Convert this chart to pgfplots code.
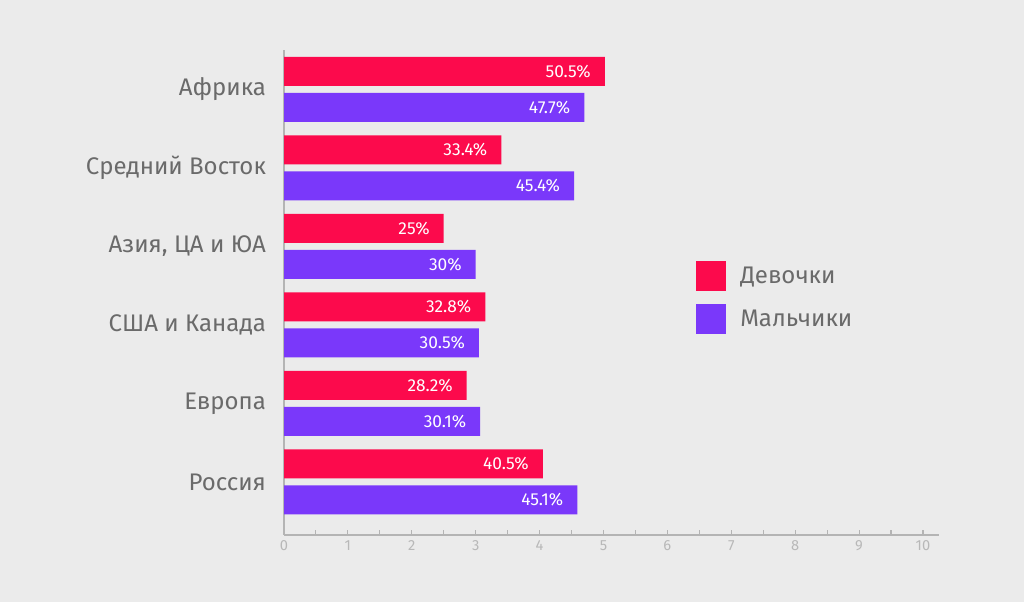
\documentclass[border=0pt]{standalone}
\usepackage{pgfplots}
\pgfplotsset{compat=1.18}
\usepackage{fontspec}
\setmainfont{Fira Sans}
\definecolor{bgc}{HTML}{EBEBEB}
\definecolor{redc}{HTML}{FC0A4C}
\definecolor{purc}{HTML}{7A38FA}
\definecolor{txtc}{HTML}{6A6A6A}
\definecolor{axc}{HTML}{B4B4B4}
\definecolor{tickc}{HTML}{B8B8B8}
\begin{document}
\begin{tikzpicture}
\fill[bgc] (0pt,0pt) rectangle (768pt,451.5pt);
\begin{axis}[
  at={(213pt,50.25pt)}, anchor=south west,
  scale only axis,
  width=491.2pt, height=363.75pt,
  xmin=0, xmax=10.25, ymin=-0.675, ymax=5.5,
  axis x line=bottom, axis y line=left,
  axis line style={-, draw=axc, line width=1pt},
  xtick={0,...,10},
  minor x tick num=1,
  tick align=inside,
  major tick length=4pt, minor tick length=4pt,
  x tick style={draw=axc, line width=0.8pt},
  xticklabel style={font=\fontsize{11}{13}\selectfont, text=tickc, yshift=-1pt},
  /pgf/number format/assume math mode=true,
  ytick={0,1,2,3,4,5},
  yticklabels={Россия, Европа, США и Канада, {Азия, ЦА и ЮА}, Средний Восток, Африка},
  y tick style={draw=none},
  yticklabel style={font=\fontsize{18}{22}\selectfont, text=txtc, xshift=-6pt},
  xbar, bar width=21.75pt,
  point meta=explicit symbolic,
  nodes near coords={\pgfplotspointmeta\%},
  every node near coord/.append style={anchor=east, xshift=-7pt, text=white, font=\fontsize{13}{15}\selectfont},
  legend style={at={(0.623,0.571)}, anchor=north west, draw=none, fill=none,
    font=\fontsize{18}{22}\selectfont, text=txtc, row sep=10pt},
  legend cell align=left,
  legend image code/.code={\fill[#1] (0pt,-11.25pt) rectangle (22.5pt,11.25pt); \path[draw=none,fill=none] (22.5pt,0pt) -- (31pt,0pt);},
]
\addplot[fill=redc, draw=none, bar shift=13.5pt] table[x=x, y=y, meta=l] {
x y l
5.02 5 50.5
3.40 4 33.4
2.50 3 25
3.15 2 32.8
2.86 1 28.2
4.05 0 40.5
};
\addlegendentry{Девочки}
\addplot[fill=purc, draw=none, bar shift=-13.5pt] table[x=x, y=y, meta=l] {
x y l
4.70 5 47.7
4.54 4 45.4
3.00 3 30
3.05 2 30.5
3.07 1 30.1
4.59 0 45.1
};
\addlegendentry{Мальчики}
\end{axis}
\end{tikzpicture}
\end{document}
